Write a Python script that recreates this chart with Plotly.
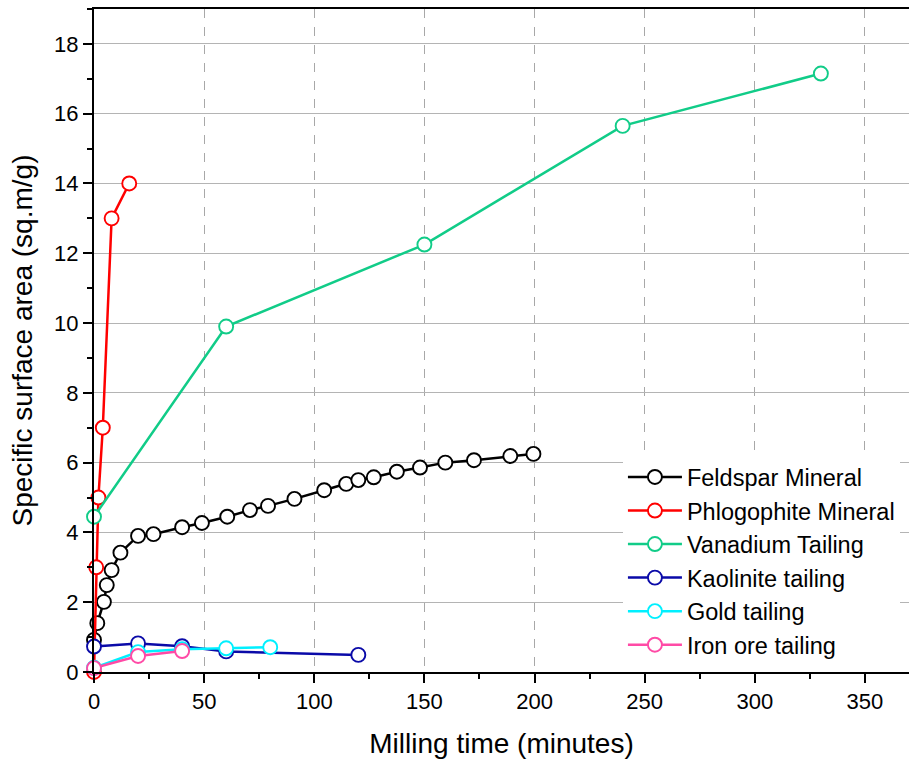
import plotly.graph_objects as go

# ---- data ----
feldspar_x = [0, 1.5, 4.5, 5.8, 8, 12, 20, 27, 40, 49, 60.5, 70.8, 79, 91, 104.5, 114.5, 120, 127, 137.5, 148, 159.5, 172.5, 189, 199.5]
feldspar_y = [0.92, 1.40, 2.01, 2.49, 2.92, 3.42, 3.90, 3.95, 4.15, 4.27, 4.45, 4.64, 4.76, 4.96, 5.21, 5.39, 5.50, 5.58, 5.74, 5.86, 6.00, 6.07, 6.19, 6.25]

phlog_x = [0, 1, 2, 4, 8, 16]
phlog_y = [0.0, 3.0, 5.0, 7.0, 13.0, 14.0]

vanad_x = [0, 60, 150, 240, 330]
vanad_y = [4.45, 9.9, 12.25, 15.65, 17.15]

kaol_x = [0, 20, 40, 60, 120]
kaol_y = [0.73, 0.82, 0.74, 0.59, 0.49]

gold_x = [0, 20, 40, 60, 80]
gold_y = [0.12, 0.57, 0.65, 0.68, 0.71]

iron_x = [0, 20, 40]
iron_y = [0.11, 0.46, 0.60]

names = ["Feldspar Mineral", "Phlogophite Mineral", "Vanadium Tailing",
         "Kaolinite tailing", "Gold tailing", "Iron ore tailing"]
colors = ["#000000", "#FF0000", "#11CC88", "#0A0AA8", "#00F0FF", "#FF4AA6"]
series = [(feldspar_x, feldspar_y), (phlog_x, phlog_y), (vanad_x, vanad_y),
          (kaol_x, kaol_y), (gold_x, gold_y), (iron_x, iron_y)]

FONT = "Liberation Sans, Arial, sans-serif"

fig = go.Figure()
for (xs, ys), name, c in zip(series, names, colors):
    fig.add_trace(go.Scatter(
        x=xs, y=ys, name=name, mode="lines+markers",
        line=dict(color=c, width=2.5),
        marker=dict(symbol="circle", size=14, color="white",
                    line=dict(color=c, width=1.9)),
        cliponaxis=False,
    ))

fig.update_layout(
    width=909, height=763,
    margin=dict(l=94, r=0, t=9, b=91),
    paper_bgcolor="white", plot_bgcolor="white",
    font=dict(family=FONT, color="black"),
    showlegend=True,
    legend=dict(
        x=0.649, y=0.327, xanchor="left", yanchor="top",
        bgcolor="white", borderwidth=0,
        font=dict(size=23.5, family=FONT, color="black"),
        itemwidth=54,
    ),
)

fig.update_xaxes(
    range=[0, 370],
    tickmode="array", tickvals=[0, 50, 100, 150, 200, 250, 300, 350],
    ticks="outside", ticklen=9, tickwidth=2, tickcolor="black",
    tickfont=dict(size=22, family=FONT, color="black"),
    showline=True, linecolor="black", linewidth=2, mirror=True,
    showgrid=True, gridcolor="#A8A8A8", gridwidth=1, griddash="dash",
    zeroline=False,
    minor=dict(ticks="outside", ticklen=5, tickwidth=2, tickcolor="black",
               dtick=25, tick0=0, showgrid=False),
    title=dict(text="Milling time (minutes)", font=dict(size=28, family=FONT, color="black"),
               standoff=20),
)
fig.update_yaxes(
    range=[0, 19],
    tickmode="array", tickvals=[0, 2, 4, 6, 8, 10, 12, 14, 16, 18],
    ticks="outside", ticklen=9, tickwidth=2, tickcolor="black",
    tickfont=dict(size=22, family=FONT, color="black"),
    showline=True, linecolor="black", linewidth=2, mirror=False,
    showgrid=True, gridcolor="#B4B4B4", gridwidth=1.3,
    zeroline=False,
    minor=dict(ticks="outside", ticklen=5, tickwidth=2, tickcolor="black",
               dtick=1, tick0=0, showgrid=False),
    title=dict(text="Specific surface area (sq.m/g)", font=dict(size=28, family=FONT, color="black"),
               standoff=13),
)

fig.write_html("out.html")
